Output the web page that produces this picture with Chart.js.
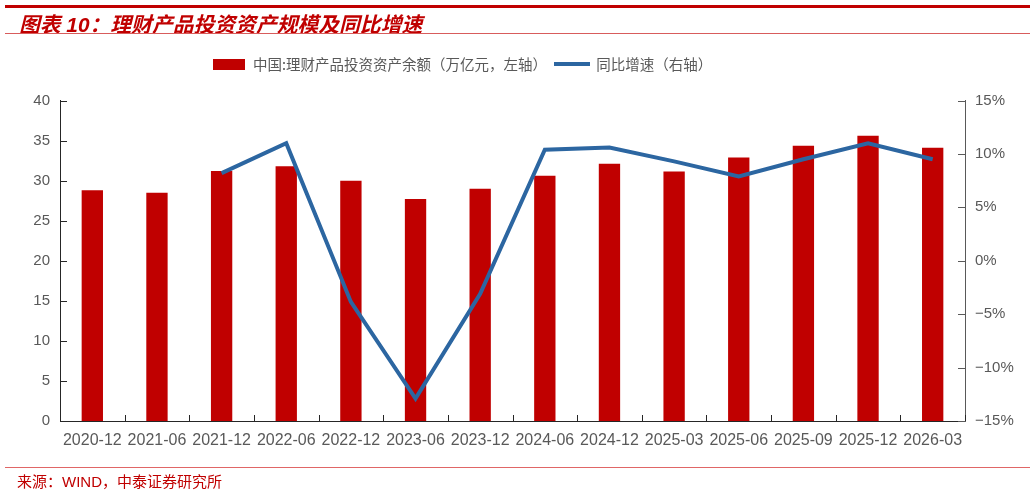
<!DOCTYPE html>
<html>
<head>
<meta charset="utf-8">
<script src="https://cdn.jsdelivr.net/npm/chart.js@4.4.0/dist/chart.umd.min.js"></script>
<style>
	body { margin: 0; background: #fff; width: 1035px; height: 492px; overflow: hidden; position: relative; }
	#chartBox { position: absolute; left: 0; top: 0; width: 1035px; height: 492px; }
	#topLine { position: absolute; left: 5px; top: 5px; width: 1025px; height: 3px; background: #C00000; }
	#title { position: absolute; left: 19px; top: 8px; line-height: 26px; font: italic bold 20.8px "Liberation Sans", "Noto Sans CJK SC"; color: #C00000; white-space: nowrap; }
	#titleLine { position: absolute; left: 5px; top: 33px; width: 1025px; height: 1px; background: #D85C5C; }
	#srcLine { position: absolute; left: 5px; top: 467px; width: 1025px; height: 1px; background: #E06666; }
	#source { position: absolute; left: 17px; top: 470px; line-height: 18px; font: 15px "Liberation Sans", "Noto Sans CJK SC"; color: #C00000; white-space: nowrap; }
</style>
</head>
<body>
<div id="chartBox"><canvas id="myChart" width="1035" height="492"></canvas></div>
<div id="topLine"></div>
<div id="title">图表 10：理财产品投资资产规模及同比增速</div>
<div id="titleLine"></div>
<div id="srcLine"></div>
<div id="source">来源：WIND，中泰证券研究所</div>

<script>
// data
var categories = ['2020-12', '2021-06', '2021-12', '2022-06', '2022-12', '2023-06', '2023-12',
	'2024-06', '2024-12', '2025-03', '2025-06', '2025-09', '2025-12', '2026-03'];
var assetValues = [28.8, 28.5, 31.2, 31.8, 30.0, 27.7, 29.0, 30.6, 32.1, 31.15, 32.9, 34.35, 35.6, 34.1];
var yoyGrowth = [null, null, 8.2, 11.0, -3.85, -12.9, -3.1, 10.4, 10.6, 9.3, 7.9, 9.5, 11.0, 9.5];
var leftTicks = { min: 0, max: 40, step: 5 };
var rightTicks = { min: -15, max: 15, step: 5 };

var barLabel = '中国:理财产品投资资产余额（万亿元，左轴）';
var lineLabel = '同比增速（右轴）';

var barColor = '#C00000';
var lineColor = '#2C66A1';
var textColor = '#595959';

function makeSwatch(w, h, color) {
	var c = document.createElement('canvas');
	c.width = w;
	c.height = h;
	var g = c.getContext('2d');
	g.fillStyle = color;
	g.fillRect(0, 0, w, h);
	return c;
}

// ticks pointing into the plot, like the original
var innerTicks = {
	id: 'innerTicks',
	beforeDatasetsDraw: function(chart) {
		var ctx = chart.ctx;
		var a = chart.chartArea;
		var s = chart.scales;
		ctx.save();
		ctx.lineWidth = 1;

		ctx.strokeStyle = '#262626';
		ctx.beginPath();
		s.y.ticks.forEach(function(t) {
			var py = Math.round(s.y.getPixelForValue(t.value)) + 0.5;
			ctx.moveTo(a.left, py);
			ctx.lineTo(a.left + 7, py);
		});
		var half = (s.x.getPixelForValue(1) - s.x.getPixelForValue(0)) / 2;
		for (var i = 0; i <= categories.length; i++) {
			var px = Math.round(s.x.getPixelForValue(i) - half) + 0.5;
			ctx.moveTo(px, a.bottom);
			ctx.lineTo(px, a.bottom - 6);
		}
		ctx.stroke();

		ctx.strokeStyle = '#595959';
		ctx.beginPath();
		s.y1.ticks.forEach(function(t) {
			var py = Math.round(s.y1.getPixelForValue(t.value)) + 0.5;
			ctx.moveTo(a.right - 7, py);
			ctx.lineTo(a.right, py);
		});
		ctx.stroke();
		ctx.restore();
	}
};

// legend sits higher and a bit left of the plot centre in the original
var legendPlace = {
	id: 'legendPlace',
	afterLayout: function(chart) {
		var lg = chart.legend;
		lg.left = 0;
		lg.right = 924;
		lg.top -= 19;
		lg.bottom -= 19;
	}
};

function initialize() {
	var ctx = document.getElementById('myChart');
	var myChart = new Chart(ctx, {
		type: 'bar',
		data: {
			labels: categories,
			datasets: [{
				type: 'bar',
				label: barLabel,
				data: assetValues,
				backgroundColor: barColor,
				borderWidth: 0,
				barPercentage: 0.33,
				categoryPercentage: 1,
				yAxisID: 'y',
				order: 1
			}, {
				type: 'line',
				label: lineLabel,
				data: yoyGrowth,
				borderColor: lineColor,
				backgroundColor: lineColor,
				borderWidth: 4,
				pointRadius: 0,
				tension: 0,
				yAxisID: 'y1',
				order: 0
			}]
		},
		plugins: [innerTicks, legendPlace],
		options: {
			responsive: false,
			animation: false,
			layout: { padding: { top: 68, bottom: 41, left: 0, right: 0 } },
			plugins: {
				tooltip: { enabled: false },
				legend: {
					position: 'top',
					labels: {
						usePointStyle: true,
						pointStyleWidth: 34,
						padding: 8,
						color: textColor,
						font: { family: '"Noto Sans CJK SC"', size: 14.5 },
						generateLabels: function(chart) {
							return [
								{ text: barLabel, pointStyle: makeSwatch(32, 11, barColor), fillStyle: barColor, strokeStyle: barColor, lineWidth: 0, hidden: false, datasetIndex: 0, fontColor: textColor },
								{ text: lineLabel, pointStyle: makeSwatch(36, 4, lineColor), fillStyle: lineColor, strokeStyle: lineColor, lineWidth: 0, hidden: false, datasetIndex: 1, fontColor: textColor }
							];
						}
					}
				}
			},
			scales: {
				x: {
					grid: { display: false, drawTicks: false },
					border: { color: '#262626', width: 1 },
					ticks: {
						autoSkip: false,
						maxRotation: 0,
						padding: 10,
						color: textColor,
						font: { family: '"Liberation Sans", "Noto Sans CJK SC"', size: 16 }
					},
					afterFit: function(scale) { scale.height = 30; }
				},
				y: {
					position: 'left',
					min: leftTicks.min,
					max: leftTicks.max,
					grid: { display: false, drawTicks: false },
					border: { color: '#262626', width: 1 },
					ticks: {
						stepSize: leftTicks.step,
						padding: 10,
						color: textColor,
						font: { family: '"Liberation Sans"', size: 15 }
					},
					afterFit: function(scale) { scale.width = 60; }
				},
				y1: {
					position: 'right',
					min: rightTicks.min,
					max: rightTicks.max,
					grid: { display: false, drawTicks: false },
					border: { color: '#595959', width: 1 },
					ticks: {
						stepSize: rightTicks.step,
						padding: 10,
						color: textColor,
						font: { family: '"Liberation Sans"', size: 15 },
						callback: function(v) { return (v < 0 ? '\u2212' + Math.abs(v) : v) + '%'; }
					},
					afterFit: function(scale) { scale.width = 70; }
				}
			}
		}
	});
}

initialize();
</script>
</body>
</html>
